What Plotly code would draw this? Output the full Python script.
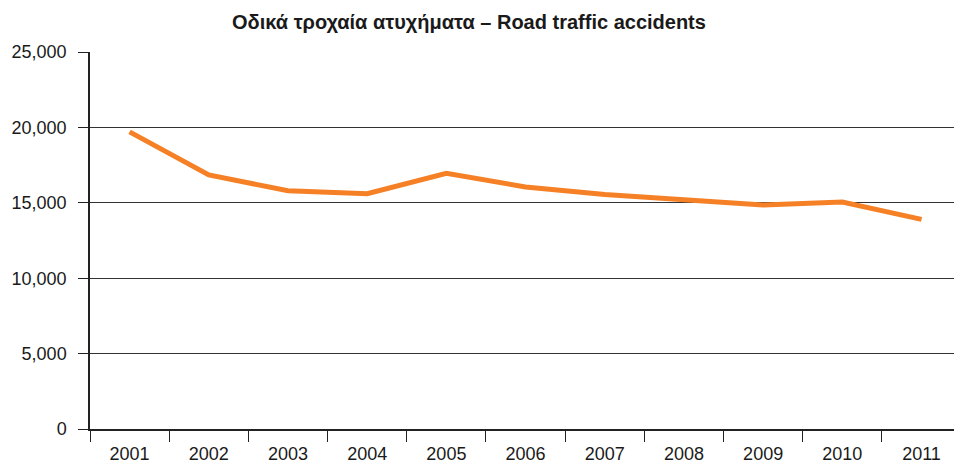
import plotly.graph_objects as go

years = ["2001", "2002", "2003", "2004", "2005", "2006",
         "2007", "2008", "2009", "2010", "2011"]
accidents = [19700, 16850, 15800, 15600, 16950, 16050,
             15550, 15200, 14850, 15050, 13900]
y_ticks = [0, 5000, 10000, 15000, 20000, 25000]
y_tick_labels = ["0", "5,000", "10,000", "15,000", "20,000", "25,000"]

fig = go.Figure()
fig.add_trace(go.Scatter(
    x=years, y=accidents, mode="lines",
    line=dict(color="#F58025", width=5),
    hoverinfo="x+y", showlegend=False,
))

fig.update_layout(
    width=954, height=465,
    margin=dict(l=90, r=0, t=52, b=36),
    paper_bgcolor="white", plot_bgcolor="white",
    font=dict(family="Liberation Sans, Arial, sans-serif", size=18, color="#1a1a1a"),
    title=dict(
        text="<b>Οδικά τροχαία ατυχήματα – Road traffic accidents</b>",
        x=0.4916, xanchor="center", y=0.953, yanchor="middle",
        font=dict(size=20, color="#1a1a1a"),
    ),
)

# the right end of the frame is slightly cut, so the last category sits near the edge
fig.update_xaxes(
    type="category", range=[-0.5, 10.41],
    tickson="boundaries", ticks="outside", ticklen=11, tickwidth=1, tickcolor="#222",
    showgrid=False, showline=True, linecolor="#222", linewidth=1.5,
    tickfont=dict(size=18), ticklabelstandoff=8,
)
fig.update_yaxes(
    range=[0, 25000], tickvals=y_ticks, ticktext=y_tick_labels,
    ticks="outside", ticklen=10, tickwidth=1, tickcolor="#222",
    showgrid=True, gridcolor="#333", gridwidth=1,
    showline=True, linecolor="#222", linewidth=1.5,
    zeroline=False, tickfont=dict(size=18), ticklabelstandoff=8,
)

fig.write_html("out.html")
